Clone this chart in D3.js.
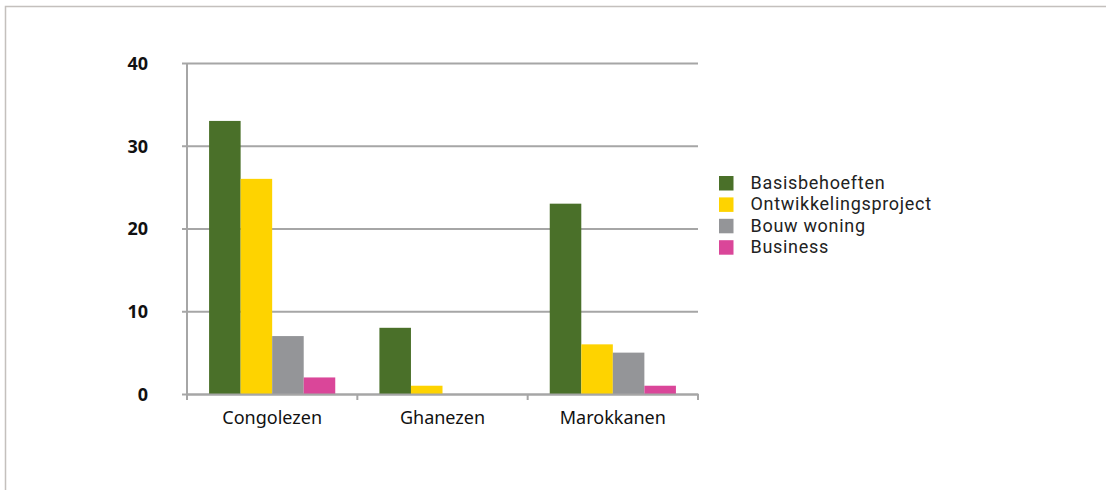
<!DOCTYPE html>
<html><head><meta charset="utf-8">
<script src="https://cdn.jsdelivr.net/npm/d3@7"></script>
<style>
html,body{margin:0;padding:0;background:#fff;}
svg{display:block;}
</style></head>
<body>
<svg id="chart" width="1106" height="490"></svg>
<script>
const categories = ["Congolezen", "Ghanezen", "Marokkanen"];
const seriesNames = ["Basisbehoeften", "Ontwikkelingsproject", "Bouw woning", "Business"];
const basisbehoeften = [33, 8, 23];
const ontwikkelingsproject = [26, 1, 6];
const bouwWoning = [7, 0, 5];
const business = [2, 0, 1];
const yTicks = [0, 10, 20, 30, 40];
const colors = ["#4a7029", "#fed300", "#949598", "#da4699"];

const seriesValues = [basisbehoeften, ontwikkelingsproject, bouwWoning, business];

(function () {
const svg = d3.select("#chart");
const font = "'Noto Sans', sans-serif";
const legendFont = "Roboto, 'Noto Sans', sans-serif";
const gridColor = "#a6a6a6";

// outer frame
svg.append("path")
  .attr("d", "M5.5,490 V6.5 H1106")
  .attr("fill", "none").attr("stroke", "#c4c0bd").attr("stroke-width", 1.5);

const pLeft = 187, pRight = 698, pTop = 63, pBottom = 394;

const x0 = d3.scaleBand().domain(categories).range([pLeft, pRight]).paddingInner(0).paddingOuter(0);
const x1 = d3.scaleBand().domain(seriesNames).range([0, x0.bandwidth()]).paddingInner(0).paddingOuter(0.7);
const y = d3.scaleLinear().domain([0, 40]).range([pBottom, pTop]);

// gridlines
const yAxis = d3.axisLeft(y).tickValues(yTicks).tickSize(-(pRight - pLeft)).tickFormat("");
const gy = svg.append("g").attr("transform", `translate(${pLeft},0)`).call(yAxis);
gy.select(".domain").remove();
gy.selectAll(".tick line").attr("stroke", gridColor).attr("stroke-width", 2);

// left tick marks + labels
const yTicksG = svg.append("g").attr("transform", `translate(${pLeft},0)`)
  .call(d3.axisLeft(y).tickValues(yTicks).tickSize(5).tickPadding(34).tickFormat(d3.format("d")));
yTicksG.select(".domain").remove();
yTicksG.selectAll(".tick line").attr("stroke", gridColor).attr("stroke-width", 2);
yTicksG.selectAll(".tick text")
  .attr("font-family", font).attr("font-weight", 700).attr("font-size", 18)
  .attr("fill", "#111").attr("dy", "0.36em");

// bars
const groups = svg.append("g").selectAll("g")
  .data(categories).join("g")
  .attr("transform", d => `translate(${x0(d)},0)`);
groups.selectAll("rect")
  .data((c, ci) => seriesNames.map((s, si) => ({s, si, v: seriesValues[si][ci]})))
  .join("rect")
  .attr("x", d => x1(d.s))
  .attr("width", x1.bandwidth())
  .attr("y", d => y(d.v))
  .attr("height", d => y(0) - y(d.v))
  .attr("fill", d => colors[d.si]);

// vertical axis line
svg.append("line")
  .attr("x1", pLeft).attr("x2", pLeft).attr("y1", pTop).attr("y2", pBottom + 6)
  .attr("stroke", gridColor).attr("stroke-width", 2);

// x axis
const xAxisG = svg.append("g").attr("transform", `translate(0,${pBottom})`)
  .call(d3.axisBottom(x0).tickSize(0).tickPadding(0));
xAxisG.select(".domain").attr("stroke", gridColor).attr("stroke-width", 2);
xAxisG.selectAll(".tick text")
  .attr("font-family", font).attr("font-size", 18).attr("fill", "#111")
  .attr("y", 30).attr("dy", 0);
// category separators
const bounds = categories.map(c => x0(c)).concat([pRight]);
svg.append("g").selectAll("line").data(bounds).join("line")
  .attr("x1", d => d).attr("x2", d => d)
  .attr("y1", pBottom).attr("y2", pBottom + 6)
  .attr("stroke", gridColor).attr("stroke-width", 2);

// legend
const legend = svg.append("g").attr("transform", "translate(719,176)");
const li = legend.selectAll("g").data(seriesNames).join("g")
  .attr("transform", (d, i) => `translate(0,${i * 21.4})`);
li.append("rect").attr("width", 14.5).attr("height", 14.5)
  .attr("fill", (d, i) => colors[i]);
li.append("text").attr("x", 31.5).attr("y", 13)
  .attr("font-family", legendFont).attr("font-size", 18).attr("fill", "#222")
  .attr("letter-spacing", 0.7)
  .text(d => d);
})();
</script>
</body></html>
